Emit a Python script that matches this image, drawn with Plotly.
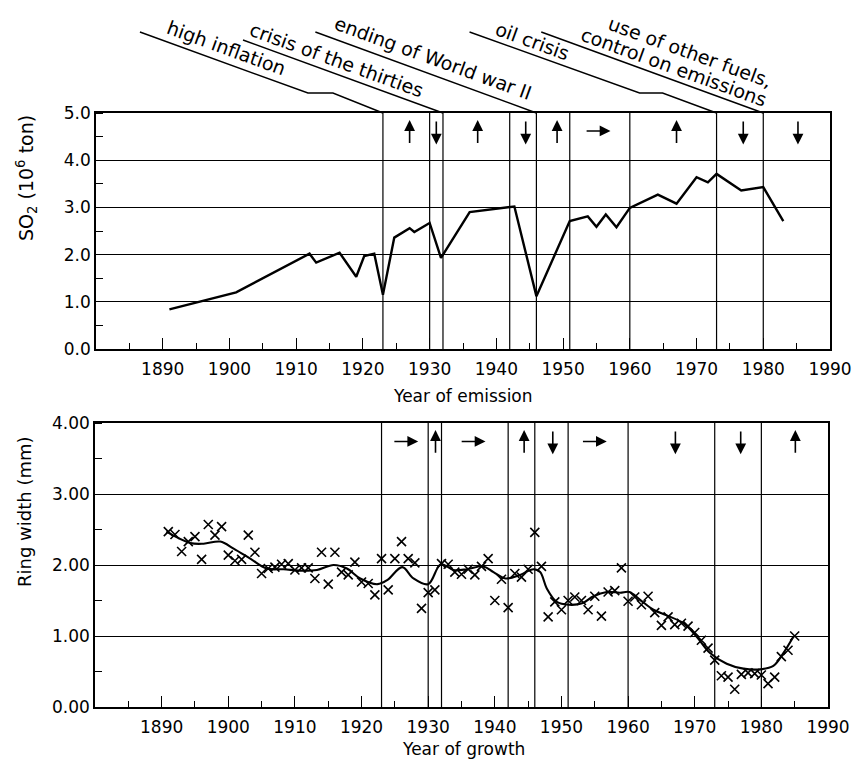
import plotly.graph_objects as go

# ---------------- data ----------------
so2_year = [1891, 1901, 1912, 1913, 1916.5, 1919, 1920.2, 1921.7, 1923, 1924.7, 1927, 1927.7,
            1930, 1931.7, 1936, 1942.7, 1946, 1951, 1953.7, 1955, 1956.4, 1958, 1960,
            1964.2, 1967, 1970, 1971.7, 1973, 1976.7, 1980, 1983]
so2_value = [0.84, 1.20, 2.02, 1.83, 2.04, 1.53, 1.97, 2.02, 1.15, 2.36, 2.56, 2.48,
             2.67, 1.93, 2.90, 3.02, 1.12, 2.71, 2.81, 2.59, 2.85, 2.58, 2.99,
             3.27, 3.08, 3.64, 3.53, 3.71, 3.36, 3.43, 2.71]

ring_year = list(range(1891, 1986))
ring_width = [2.47, 2.43, 2.19, 2.33, 2.40, 2.08, 2.57, 2.42, 2.54, 2.14,
              2.06, 2.08, 2.42, 2.18, 1.88, 1.95, 1.97, 2.01, 2.02, 1.93,
              1.96, 1.96, 1.81, 2.18, 1.73, 2.18, 1.90, 1.86, 2.04, 1.76,
              1.74, 1.58, 2.09, 1.65, 2.09, 2.33, 2.09, 2.03, 1.39, 1.61,
              1.65, 2.02, 2.01, 1.90, 1.87, 1.94, 1.86, 1.98, 2.09, 1.50,
              1.80, 1.40, 1.88, 1.83, 1.94, 2.46, 1.98, 1.27, 1.48, 1.37,
              1.50, 1.55, 1.50, 1.37, 1.56, 1.28, 1.62, 1.64, 1.96, 1.49,
              1.55, 1.44, 1.56, 1.33, 1.15, 1.27, 1.16, 1.18, 1.14, 1.05,
              0.94, 0.83, 0.66, 0.44, 0.42, 0.25, 0.46, 0.48, 0.47, 0.45,
              0.33, 0.42, 0.71, 0.80, 1.00]

smooth_year = [1890.7, 1894.3, 1896.3, 1898.8, 1900.8, 1903.3, 1905.8, 1908.3, 1910.8, 1913.3,
               1915.8, 1917.8, 1919.8, 1922.4, 1923.9, 1926.1, 1927.8, 1930.0, 1931.9, 1933.8,
               1935.8, 1938.3, 1939.8, 1941.6, 1943.8, 1945.8, 1946.8, 1947.8, 1949.3, 1951.1,
               1953.1, 1954.8, 1956.8, 1958.8, 1960.2, 1961.8, 1963.8, 1965.8, 1968.3, 1970.3,
               1972.3, 1974.8, 1977.3, 1979.8, 1981.8, 1983.3, 1984.8]
smooth_width = [2.47, 2.31, 2.30, 2.33, 2.23, 2.09, 1.95, 1.94, 1.92, 1.93,
                2.00, 1.95, 1.81, 1.73, 1.79, 1.97, 1.81, 1.73, 2.01, 1.93,
                1.94, 1.98, 1.90, 1.81, 1.86, 1.94, 1.90, 1.67, 1.48, 1.44,
                1.46, 1.56, 1.62, 1.61, 1.62, 1.51, 1.37, 1.29, 1.18, 0.99,
                0.76, 0.61, 0.54, 0.53, 0.58, 0.76, 0.99]

event_years = [1923, 1930, 1932, 1942, 1946, 1951, 1960, 1973, 1980]

top_arrow_x = [1927, 1931, 1937.2, 1944.4, 1949.1, 1955.2, 1967, 1977, 1985.2]
top_arrow_dir = ["up", "down", "up", "down", "up", "right", "up", "down", "down"]
bot_arrow_x = [1926.6, 1931.1, 1936.7, 1944.4, 1948.7, 1954.9, 1967.1, 1976.9, 1985.1]
bot_arrow_dir = ["right", "up", "right", "up", "down", "right", "down", "down", "up"]

event_labels = ["high inflation", "crisis of the thirties", "ending of World war II",
                "oil crisis", "use of other fuels,", "control on emissions"]
label_event = [1923, 1932, 1946, 1973, 1980, 1980]

x_ticks = list(range(1890, 1991, 10))

# ---------------- layout geometry ----------------
W, H = 853, 762
FONT = "DejaVu Sans"
top_px = (96, 830, 113, 349)     # left, right, top, bottom (pixels)
bot_px = (95, 828, 423, 707)
XR = (1880, 1990)


def px2p(x, y):
    return x / W, 1 - y / H


def yr2px(yr, box):
    return box[0] + (yr - XR[0]) / (XR[1] - XR[0]) * (box[1] - box[0])


fig = go.Figure()

fig.add_trace(go.Scatter(x=so2_year, y=so2_value, mode="lines",
                         line=dict(color="black", width=2.4), xaxis="x", yaxis="y",
                         showlegend=False))
fig.add_trace(go.Scatter(x=smooth_year, y=smooth_width, mode="lines", line_shape="spline",
                         line=dict(color="black", width=2.1), xaxis="x2", yaxis="y2",
                         showlegend=False))
fig.add_trace(go.Scatter(x=ring_year, y=ring_width, mode="markers",
                         marker=dict(symbol="x-thin", size=9, line=dict(color="black", width=1.6)),
                         xaxis="x2", yaxis="y2", showlegend=False))

shapes = []
for ev in event_years:
    shapes.append(dict(type="line", xref="x", yref="y", x0=ev, x1=ev, y0=0, y1=5,
                       line=dict(color="black", width=1.2)))
    shapes.append(dict(type="line", xref="x2", yref="y2", x0=ev, x1=ev, y0=0, y1=4,
                       line=dict(color="black", width=1.2)))

# leader lines from labels to event lines (offsets in px relative to event top)
leader_offsets = {
    1923: [(-243, -81), (-75, -20), (-50, -20), (0, 0)],
    1932: [(-200, -73), (0, 0)],
    1946: [(-221, -81), (0, 0)],
    1973: [(-247, -81), (-77, -20), (-54, -20), (0, 0)],
    1980: [(-222, -81), (0, 0)],
}
for ev, offs in leader_offsets.items():
    ex, ey = yr2px(ev, top_px), top_px[2]
    pts = [px2p(ex + dx, ey + dy) for dx, dy in offs]
    path = "M " + " L ".join(f"{a:.5f},{b:.5f}" for a, b in pts)
    shapes.append(dict(type="path", xref="paper", yref="paper", path=path,
                       line=dict(color="black", width=1.4)))

annotations = []
label_offsets = [(-156, -65), (-106, -53), (-103, -55), (-184, -72), (-73, -61), (-89, -46)]
for txt, ev, (dx, dy) in zip(event_labels, label_event, label_offsets):
    x, y = px2p(yr2px(ev, top_px) + dx, top_px[2] + dy)
    annotations.append(dict(xref="paper", yref="paper", x=x, y=y, text=txt, showarrow=False,
                            textangle=20, xanchor="center", yanchor="middle",
                            font=dict(family=FONT, size=19, color="black")))


def add_arrows(xs, dirs, xr, yr, lo, hi, mid, half):
    for x, d in zip(xs, dirs):
        if d == "up":
            tx, ty, hx, hy = x, lo, x, hi
        elif d == "down":
            tx, ty, hx, hy = x, hi, x, lo
        else:
            tx, ty, hx, hy = x - half, mid, x + half, mid
        annotations.append(dict(x=hx, y=hy, ax=tx, ay=ty, xref=xr, yref=yr, axref=xr, ayref=yr,
                                text="", showarrow=True, arrowhead=2, arrowsize=1.35,
                                arrowwidth=1.6, arrowcolor="black", standoff=0, startstandoff=0))


add_arrows(top_arrow_x, top_arrow_dir, "x", "y", 4.33, 4.85, 4.62, 1.9)
add_arrows(bot_arrow_x, bot_arrow_dir, "x2", "y2", 3.56, 3.9, 3.74, 1.9)

# axis titles
for txt, (xp, yp), ang, sz in [
    ("Year of emission", (463, 396), 0, 17),
    ("Year of growth", (463, 749), 0, 17),
    ("SO<sub>2</sub> (10<sup>6</sup> ton)", (27, 178), -90, 19),
    ("Ring width (mm)", (24, 512), -90, 18),
]:
    x, y = px2p(xp, yp)
    annotations.append(dict(xref="paper", yref="paper", x=x, y=y, text=txt, showarrow=False,
                            textangle=ang, xanchor="center", yanchor="middle",
                            font=dict(family=FONT, size=sz, color="black")))


def xaxis_cfg(box, anchor):
    return dict(domain=[box[0] / W, box[1] / W], range=list(XR), anchor=anchor,
                tickmode="array", tickvals=x_ticks, ticks="inside", ticklen=11, tickwidth=1,
                tickcolor="black", showgrid=False, zeroline=False, automargin=False,
                showline=True, linecolor="black", linewidth=1.5, mirror=True,
                ticklabelstandoff=4,
                minor=dict(dtick=5, tick0=1880, ticks="inside", ticklen=6, tickwidth=1,
                           tickcolor="black", showgrid=False),
                tickfont=dict(family=FONT, size=17, color="black"))


def yaxis_cfg(box, anchor, top, fmt):
    return dict(domain=[1 - box[3] / H, 1 - box[2] / H], range=[0, top], anchor=anchor,
                tickmode="array", tickvals=list(range(0, top + 1)), tickformat=fmt,
                ticks="", showgrid=True, gridcolor="black", gridwidth=1, zeroline=False,
                showline=True, linecolor="black", linewidth=1.5, mirror=True, automargin=False,
                minor=dict(dtick=0.5, ticks="inside", ticklen=7, tickwidth=1,
                           tickcolor="black", showgrid=False),
                tickfont=dict(family=FONT, size=17, color="black"))


fig.update_layout(
    width=W, height=H, margin=dict(l=0, r=0, t=0, b=0, autoexpand=False),
    paper_bgcolor="white", plot_bgcolor="white",
    xaxis=xaxis_cfg(top_px, "y"), yaxis=yaxis_cfg(top_px, "x", 5, ".1f"),
    xaxis2=xaxis_cfg(bot_px, "y2"), yaxis2=yaxis_cfg(bot_px, "x2", 4, ".2f"),
    shapes=shapes, annotations=annotations, showlegend=False,
)

fig.write_html("out.html", config={"displayModeBar": False},
               post_script="document.body.style.margin='0px';")
